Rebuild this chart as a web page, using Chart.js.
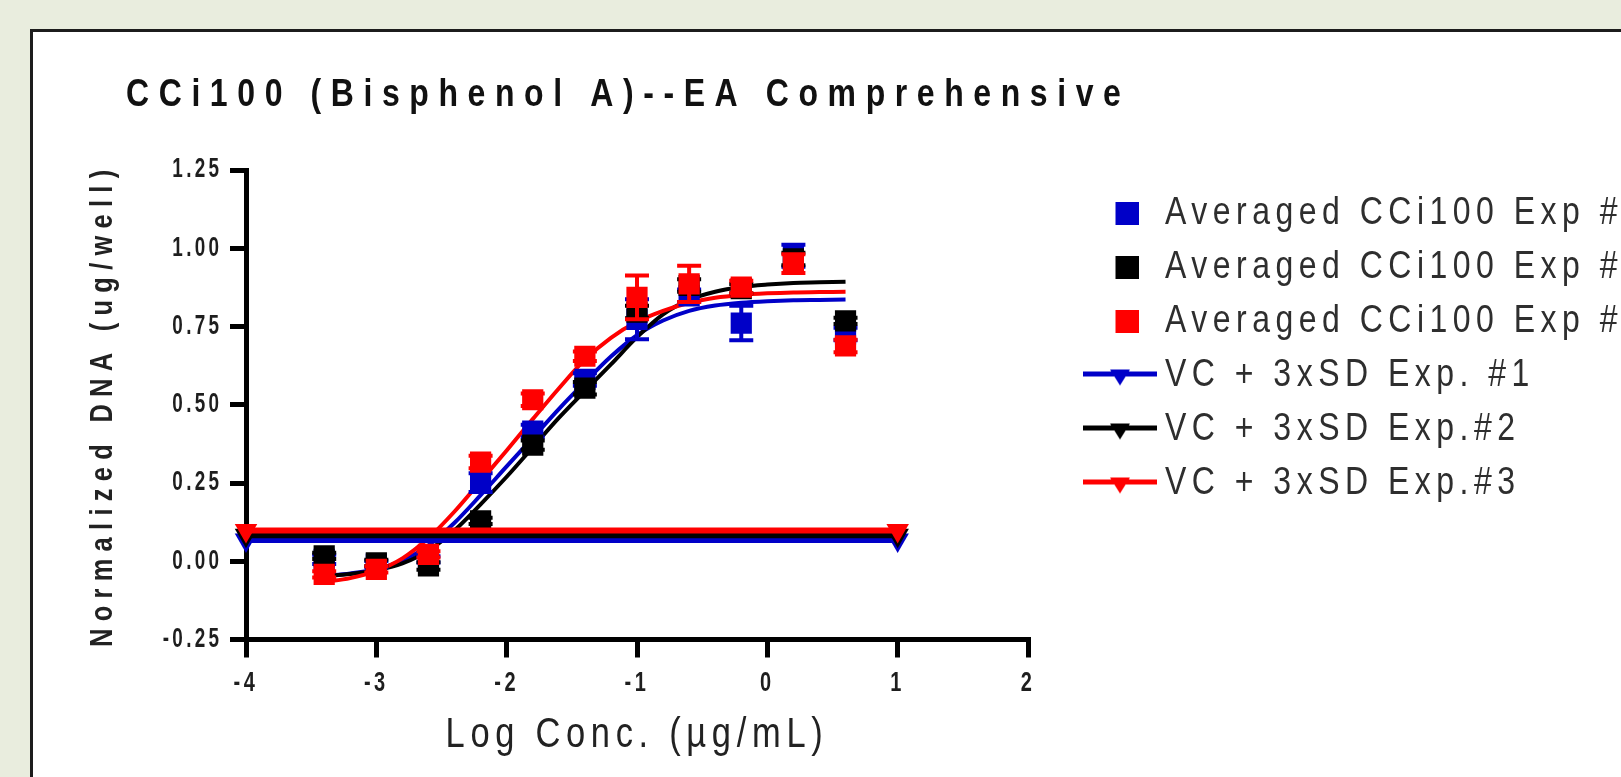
<!DOCTYPE html>
<html>
<head>
<meta charset="utf-8">
<script src="https://cdn.jsdelivr.net/npm/chart.js@4.4.1/dist/chart.umd.min.js"></script>
<style>
html, body { margin:0; padding:0; width:1621px; height:777px; overflow:hidden; background:#e9edde; }
#panel { position:absolute; left:30px; top:29px; width:1700px; height:900px; background:#ffffff; border-left:3px solid #1c1c1c; border-top:3px solid #1c1c1c; }
#c { position:absolute; left:0; top:0; }
</style>
</head>
<body>
<div id="panel"></div>
<canvas id="c" width="1621" height="777"></canvas>
<script>
// ---------- texts ----------
const chartTitle = 'CCi100 (Bisphenol A)--EA Comprehensive';
const xAxisTitle = 'Log Conc. (\u00b5g/mL)';
const yAxisTitle = 'Normalized DNA (ug/well)';
const xTickLabels = ['-4', '-3', '-2', '-1', '0', '1', '2'];
const yTickLabels = ['-0.25', '0.00', '0.25', '0.50', '0.75', '1.00', '1.25'];
const seriesLabels = ['Averaged CCi100 Exp #1', 'Averaged CCi100 Exp #2', 'Averaged CCi100 Exp #3',
                      'VC + 3xSD Exp. #1', 'VC + 3xSD Exp.#2', 'VC + 3xSD Exp.#3'];

// ---------- data: averaged points ----------
const logConc = [-3.4, -3.0, -2.6, -2.2, -1.8, -1.4, -1.0, -0.6, -0.2, 0.2, 0.6];
const avgExp1 = [0.006, -0.009, 0.006, 0.251, 0.416, 0.581, 0.773, 0.848, 0.761, 0.976, 0.726];
const semExp1 = [0.015, 0.01, 0.01, 0.03, 0.02, 0.02, 0.064, 0.02, 0.055, 0.035, 0.02];
const avgExp2 = [0.017, -0.005, -0.015, 0.129, 0.371, 0.553, 0.796, 0.881, 0.871, 0.966, 0.768];
const semExp2 = [0.01, 0.01, 0.012, 0.01, 0.015, 0.02, 0.02, 0.02, 0.015, 0.02, 0.01];
const avgExp3 = [-0.042, -0.026, 0.022, 0.317, 0.516, 0.655, 0.843, 0.886, 0.876, 0.951, 0.688];
const semExp3 = [0.01, 0.01, 0.01, 0.02, 0.02, 0.015, 0.07, 0.058, 0.02, 0.03, 0.02];

// ---------- data: VC + 3xSD threshold lines ----------
const vcX = [-4, 1];
const vcExp1 = [0.068, 0.068];
const vcExp2 = [0.083, 0.083];
const vcExp3 = [0.098, 0.098];

// ---------- data: fitted curves ----------
const fitX = [-3.4, -3.2, -3.0, -2.8, -2.6, -2.4, -2.2, -2.0, -1.8, -1.6, -1.4, -1.2, -1.0, -0.8, -0.6, -0.4, -0.2, 0.0, 0.2, 0.4, 0.6];
const fitExp1 = [-0.047, -0.039, -0.025, 0.002, 0.051, 0.123, 0.211, 0.303, 0.394, 0.486, 0.572, 0.654, 0.722, 0.769, 0.8, 0.817, 0.826, 0.831, 0.834, 0.835, 0.836];
const fitExp2 = [-0.047, -0.041, -0.029, -0.007, 0.034, 0.099, 0.182, 0.27, 0.364, 0.458, 0.544, 0.629, 0.716, 0.789, 0.835, 0.861, 0.876, 0.884, 0.889, 0.891, 0.893];
const fitExp3 = [-0.066, -0.054, -0.031, 0.009, 0.074, 0.159, 0.256, 0.354, 0.454, 0.552, 0.644, 0.714, 0.765, 0.8, 0.826, 0.842, 0.851, 0.856, 0.859, 0.86, 0.861];

// ---------- styles ----------
const BLUE = '#0000c8', BLACK = '#000000', RED = '#ff0000';
const FONT = "'Liberation Sans', Arial, sans-serif";
const NARROW = 0.82;   // horizontal condensing of the texts

const pts = (xs, ys) => xs.map((x, i) => ({ x, y: ys[i] }));

function squareGlyph(color) {
  const c = document.createElement('canvas');
  c.width = 37; c.height = 23;
  const g = c.getContext('2d');
  g.fillStyle = color; g.fillRect(14, 0, 23, 23);
  return c;
}
function lineTriGlyph(color) {
  const c = document.createElement('canvas');
  c.width = 74; c.height = 28;
  const g = c.getContext('2d');
  g.fillStyle = color;
  g.fillRect(0, 10, 74, 5);
  g.beginPath(); g.moveTo(27, 8); g.lineTo(47, 8); g.lineTo(37, 24); g.closePath(); g.fill();
  return c;
}
const legendGlyphs = [squareGlyph(BLUE), squareGlyph(BLACK), squareGlyph(RED),
                      lineTriGlyph(BLUE), lineTriGlyph(BLACK), lineTriGlyph(RED)];

const scatterSet = (label, ys, color, order) => ({
  label, data: pts(logConc, ys), showLine: false, pointStyle: 'rect', pointRadius: 15,
  backgroundColor: color, borderColor: color, borderWidth: 0, order
});
const vcSet = (label, ys, color, order) => ({
  label, data: pts(vcX, ys), showLine: true, borderColor: color, backgroundColor: color,
  borderWidth: 6, pointStyle: 'triangle', rotation: 180, pointRadius: 13, pointBorderWidth: 0,
  clip: false, order
});
const fitSet = (ys, color, order) => ({
  label: '', data: pts(fitX, ys), showLine: true, borderColor: color, borderWidth: 4,
  pointRadius: 0, cubicInterpolationMode: 'monotone', order
});

const datasets = [
  scatterSet(seriesLabels[0], avgExp1, BLUE, 6),
  scatterSet(seriesLabels[1], avgExp2, BLACK, 5),
  scatterSet(seriesLabels[2], avgExp3, RED, 4),
  vcSet(seriesLabels[3], vcExp1, BLUE, 3),
  vcSet(seriesLabels[4], vcExp2, BLACK, 2),
  vcSet(seriesLabels[5], vcExp3, RED, 1),
  fitSet(fitExp1, BLUE, 9),
  fitSet(fitExp2, BLACK, 8),
  fitSet(fitExp3, RED, 7)
];
const errorSeries = { 0: { sem: semExp1, color: BLUE }, 1: { sem: semExp2, color: BLACK }, 2: { sem: semExp3, color: RED } };

// condensed, letter-spaced text for the text boxes
function styled(fn, spacing, dx, dy, narrow) {
  const sx = narrow || NARROW;
  return function (...args) {
    const ctx = this.ctx;
    const protoFill = CanvasRenderingContext2D.prototype.fillText;
    ctx.save();
    ctx.letterSpacing = (spacing / sx) + 'px';
    ctx.translate(dx || 0, dy || 0);
    ctx.fillText = function (text, x, y) {
      this.save();
      this.translate(x, y);
      this.scale(sx, 1);
      protoFill.call(this, text, 0, 0);
      this.restore();
    };
    try { fn.apply(this, args); } finally {
      delete ctx.fillText;
      ctx.restore();
    }
  };
}
const textStylePlugin = {
  id: 'textStyle',
  beforeLayout(chart) {
    if (chart.$patched) return;
    chart.$patched = true;
    const t = chart.titleBlock;
    t.draw = styled(t.draw, 9.6, 66, 3);
    const lg = chart.legend;
    const origFit = lg.fit;
    lg.fit = function () { origFit.call(this); this.width = 593; };
    lg.draw = styled(lg.draw, 5.5, 51.5, 9);
    const x = chart.scales.x, y = chart.scales.y;
    x.drawLabels = styled(x.drawLabels, 3.5, 0, 0, 0.74);
    x.drawTitle = styled(x.drawTitle, 5.7);
    y.drawLabels = styled(y.drawLabels, 3.3, 0, 0, 0.7);
    y.drawTitle = styled(y.drawTitle, 7.3);
  }
};
const errorBarPlugin = {
  id: 'errorBars',
  beforeDatasetDraw(chart, args) {
    const es = errorSeries[args.index];
    if (!es) return;
    const { ctx, scales: { x, y } } = chart;
    const ds = chart.data.datasets[args.index];
    ctx.save();
    ctx.strokeStyle = es.color;
    ctx.lineWidth = 4;
    ds.data.forEach((p, i) => {
      const px = x.getPixelForValue(p.x);
      const top = y.getPixelForValue(p.y + es.sem[i]);
      const bot = y.getPixelForValue(p.y - es.sem[i]);
      ctx.beginPath();
      ctx.moveTo(px, top); ctx.lineTo(px, bot);
      ctx.moveTo(px - 12, top); ctx.lineTo(px + 12, top);
      ctx.moveTo(px - 12, bot); ctx.lineTo(px + 12, bot);
      ctx.stroke();
    });
    ctx.restore();
  }
};

new Chart(document.getElementById('c'), {
  type: 'scatter',
  data: { datasets },
  options: {
    responsive: false,
    animation: false,
    devicePixelRatio: 1,
    events: [],
    layout: { padding: { left: 60, right: 0, top: 0, bottom: 0 } },
    plugins: {
      tooltip: { enabled: false },
      title: {
        display: true, text: chartTitle, align: 'start', color: '#111111',
        font: { family: FONT, size: 39, weight: 'bold', lineHeight: 1.2 },
        padding: { top: 69.1, bottom: 54.1 }
      },
      legend: {
        display: true, position: 'right', align: 'start', fullSize: false,
        labels: {
          usePointStyle: true, pointStyleWidth: 51, boxHeight: 39, padding: 15,
          color: '#2e2e2e', font: { family: FONT, size: 39 },
          generateLabels(chart) {
            return [0, 1, 2, 3, 4, 5].map(i => ({
              text: chart.data.datasets[i].label, datasetIndex: i, pointStyle: legendGlyphs[i],
              fillStyle: 'rgba(0,0,0,0)', strokeStyle: 'rgba(0,0,0,0)', lineWidth: 0,
              hidden: false, fontColor: '#2e2e2e'
            }));
          },
          sort: (a, b) => a.datasetIndex - b.datasetIndex
        }
      }
    },
    scales: {
      x: {
        type: 'linear', min: -4, max: 2,
        ticks: {
          stepSize: 1, autoSkip: false, maxRotation: 0, padding: 9.9, color: '#1e1e1e',
          font: { family: FONT, size: 27, weight: 'bold', lineHeight: 1.2 },
          callback: (v, i) => xTickLabels[i]
        },
        grid: { display: true, drawOnChartArea: false, drawTicks: true, tickLength: 18, lineWidth: 5, color: '#000000' },
        border: { display: true, width: 5, color: '#000000' },
        title: {
          display: true, text: xAxisTitle, color: '#222222',
          font: { family: FONT, size: 42, lineHeight: 1.2 }, padding: { top: 0, bottom: 16.8 }
        },
        afterFit: (s) => { s.height = 137.5; }
      },
      y: {
        type: 'linear', min: -0.25, max: 1.25,
        ticks: {
          stepSize: 0.25, autoSkip: false, padding: 7.7, color: '#1e1e1e',
          font: { family: FONT, size: 27, weight: 'bold', lineHeight: 1.2 },
          callback: (v, i) => yTickLabels[i]
        },
        grid: { display: true, drawOnChartArea: false, drawTicks: true, tickLength: 16, lineWidth: 5, color: '#000000' },
        border: { display: true, width: 5, color: '#000000' },
        title: {
          display: true, text: yAxisTitle, color: '#222222',
          font: { family: FONT, size: 31, weight: 'bold', lineHeight: 1.2 }, padding: { top: 25, bottom: 0 }
        },
        afterFit: (s) => { s.width = 186; }
      }
    }
  },
  plugins: [textStylePlugin, errorBarPlugin]
});
</script>
</body>
</html>
